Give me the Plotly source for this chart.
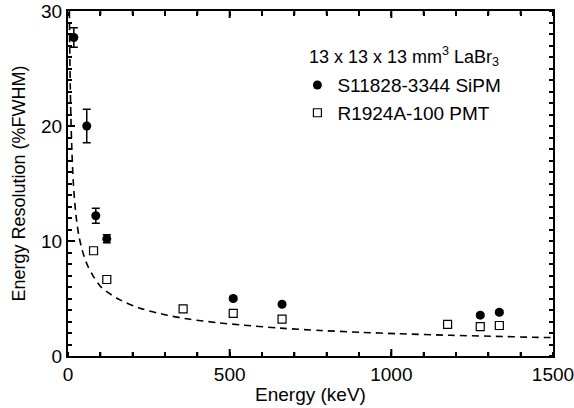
import plotly.graph_objects as go

# SiPM (filled circles) with error bars
sipm_energy = [18, 58, 86, 120, 511, 662, 1275, 1334]
sipm_res = [27.7, 20.0, 12.2, 10.2, 5.0, 4.5, 3.55, 3.8]
sipm_err = [0.85, 1.45, 0.65, 0.35, 0.15, 0.15, 0.15, 0.15]

# PMT (open squares)
pmt_energy = [79, 120, 356, 511, 662, 1174, 1275, 1334]
pmt_res = [9.15, 6.65, 4.1, 3.7, 3.2, 2.75, 2.55, 2.65]

# dashed reference curve
curve_energy = [4.3, 5.5, 7, 9, 12, 16, 21, 27, 34, 45, 60, 78, 99, 122, 161, 223,
                306, 378, 461, 543, 657, 781, 905, 1019, 1184, 1308, 1453, 1500]
curve_res = [30, 26.5, 23.5, 20.7, 17.9, 15.3, 13.3, 11.7, 10.4, 9.1, 7.9, 6.95, 6.1,
             5.55, 4.88, 4.15, 3.55, 3.19, 2.9, 2.68, 2.42, 2.22, 2.06, 1.94, 1.80,
             1.72, 1.62, 1.6]

# energy-axis tick values (major every 500 keV, minor every 100 keV)
x_major_ticks = [500, 1000]
x_minor_ticks = [100, 200, 300, 400, 600, 700, 800, 900, 1100, 1200, 1300, 1400]

legend_title = "13 x 13 x 13 mm<sup>3</sup> LaBr<sub>3</sub>"

FONT = "Liberation Sans, Arial, Helvetica, sans-serif"
FS = 19
X_RANGE = [0, 1500]
Y_RANGE = [0, 30]

fig = go.Figure()
fig.add_trace(go.Scatter(
    x=curve_energy, y=curve_res, mode="lines", xaxis="x2", yaxis="y2",
    line=dict(color="black", width=1.6, dash="7px,5px", shape="spline", smoothing=0.8),
    showlegend=False, hoverinfo="skip"))
fig.add_trace(go.Scatter(
    x=sipm_energy, y=sipm_res, mode="markers", name="S11828-3344 SiPM", legendgroup="a",
    marker=dict(symbol="circle", size=9, color="black"),
    error_y=dict(type="data", array=sipm_err, visible=True, color="black",
                 thickness=1.5, width=4)))
fig.add_trace(go.Scatter(
    x=pmt_energy, y=pmt_res, mode="markers", name="R1924A-100 PMT", legendgroup="b",
    xaxis="x3", yaxis="y3",
    marker=dict(symbol="square-open", size=8, color="black", line=dict(width=1.2))))

tick_style = dict(tickwidth=2, tickcolor="black", showgrid=False, zeroline=False,
                  automargin=False, tickmode="linear", tick0=0)


def tick_axis(rng, main, side, pos, dtick, length):
    """Overlay axis used only to draw inward-pointing ticks at a plot edge."""
    return dict(range=rng, overlaying=main, anchor="free", position=pos, side=side,
                dtick=dtick, ticks="outside", ticklen=length, showticklabels=False,
                showline=False, **tick_style)


fig.update_layout(
    xaxis=dict(range=X_RANGE, tickmode="linear", tick0=0, dtick=500, ticks="",
               showline=True, linecolor="black", linewidth=2, mirror=True,
               showgrid=False, zeroline=False, automargin=False,
               ticklabeloverflow="allow",
               tickfont=dict(family=FONT, size=FS, color="black"),
               title=dict(text="Energy (keV)", font=dict(family=FONT, size=FS, color="black"),
                          standoff=4)),
    yaxis=dict(range=Y_RANGE, dtick=10, ticks="inside", ticklen=7,
               showline=True, linecolor="black", linewidth=2, mirror=True,
               tickfont=dict(family=FONT, size=FS, color="black"),
               title=dict(text="Energy Resolution (%FWHM)",
                          font=dict(family=FONT, size=18, color="black"), standoff=11),
               **tick_style),
    yaxis2=dict(range=Y_RANGE, overlaying="y", anchor="x2", side="left", dtick=1,
                ticks="inside", ticklen=4, showticklabels=False, showline=False,
                **tick_style),
    xaxis2=tick_axis(X_RANGE, "x", "top", 0, 100, 4),
    xaxis3=tick_axis(X_RANGE, "x", "bottom", 1, 100, 4),
    yaxis3=tick_axis(Y_RANGE, "y", "left", 1, 1, 4),
    yaxis4=tick_axis(Y_RANGE, "y", "left", 1, 10, 7),
)

# inward ticks on the bottom and top edges, placed through the x axis scale
for vals, length in ((x_major_ticks, 7), (x_minor_ticks, 4)):
    for v in vals:
        for anchor, sign in ((0, 1), (1, -1)):
            fig.add_shape(type="line", xref="x", yref="paper", x0=v, x1=v,
                          ysizemode="pixel", yanchor=anchor, y0=0, y1=sign * length,
                          line=dict(color="black", width=2), layer="above")

fig.add_annotation(
    text=legend_title, xref="paper", yref="paper", x=0.492, y=0.868,
    xanchor="left", yanchor="middle", showarrow=False,
    font=dict(family=FONT, size=18, color="black"))

fig.update_layout(
    width=574, height=408,
    margin=dict(l=68, r=21, t=11, b=52),
    paper_bgcolor="white", plot_bgcolor="white",
    font=dict(family=FONT, size=FS, color="black"),
    legend=dict(
        x=0.473, y=0.840, xanchor="left", yanchor="top",
        bgcolor="rgba(0,0,0,0)", borderwidth=0, tracegroupgap=0,
        font=dict(family=FONT, size=FS, color="black"),
        itemwidth=30,
    ),
)
fig.write_html("out.html", config={"displayModeBar": False},
               post_script="document.body.style.margin='0';")
